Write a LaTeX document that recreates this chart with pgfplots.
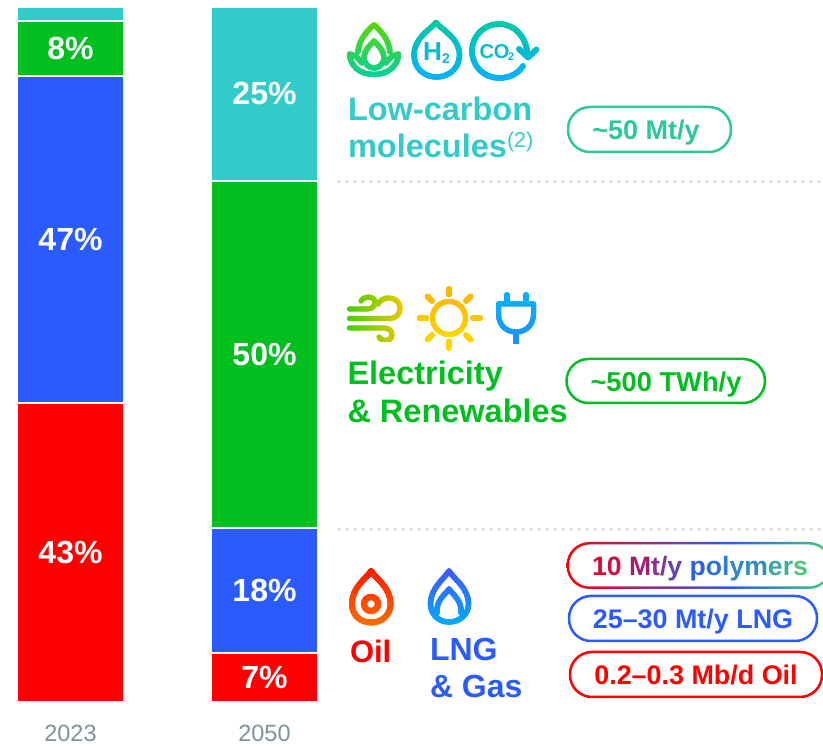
\documentclass[border=0pt]{standalone}
\usepackage{pgfplots}
\pgfplotsset{compat=1.18}
\usepackage{fontspec}
\setmainfont{Liberation Sans}
\definecolor{cteal}{HTML}{33CACA}
\definecolor{cgreen}{HTML}{00BF1E}
\definecolor{cblue}{HTML}{2B5BFF}
\definecolor{cred}{HTML}{FF0000}
\definecolor{cmint}{HTML}{2CC79B}
\definecolor{cgray}{HTML}{7F9298}
\definecolor{cdot}{HTML}{CFD8DB}
\definecolor{pend}{HTML}{3FD070}
\definecolor{g1}{HTML}{5FD800}
\definecolor{g2}{HTML}{00D0A0}
\definecolor{t1}{HTML}{00CCA0}
\definecolor{t2}{HTML}{00B0FF}
\definecolor{w1}{HTML}{40D000}
\definecolor{w2}{HTML}{F0C800}
\definecolor{s1}{HTML}{FFB000}
\definecolor{s2}{HTML}{FFDD00}
\definecolor{p1}{HTML}{00B8F8}
\definecolor{p2}{HTML}{1E90FF}
\definecolor{o1}{HTML}{FF1000}
\definecolor{o2}{HTML}{FF7000}
\definecolor{l1}{HTML}{4A4CFF}
\definecolor{l2}{HTML}{00B0FF}
\pgfdeclarehorizontalshading{polyshade}{100bp}{color(0bp)=(cred); color(25bp)=(cred); color(56bp)=(cblue); color(75bp)=(pend); color(100bp)=(pend)}
\newcommand{\fs}[1]{\fontsize{#1pt}{#1pt}\selectfont}
\tikzset{ic/.style={line width=5.3pt,line cap=round,line join=round},
  tx/.style={inner sep=0pt,outer sep=0pt,anchor=base west},
  txc/.style={inner sep=0pt,outer sep=0pt,anchor=base}}
% vertical gradient: {x0}{x1}{y0}{y1}{top}{bottom}{paths}
\newcommand{\vgrad}[7]{%
  \pgfmathsetmacro\gsteps{int(#4-#3)}%
  \foreach \k in {0,...,\gsteps}{%
    \pgfmathsetmacro\pct{100*\k/\gsteps}%
    \colorlet{gc}{#6!\pct!#5}%
    \begin{scope}
      \clip (#1,#3+\k) rectangle (#2,#3+\k+1.4);
      \begin{scope}[color=gc] #7 \end{scope}
    \end{scope}
  }}
% horizontal gradient: {x0}{x1}{y0}{y1}{left}{right}{paths}
\newcommand{\hgrad}[7]{%
  \pgfmathsetmacro\gsteps{int(#2-#1)}%
  \foreach \k in {0,...,\gsteps}{%
    \pgfmathsetmacro\pct{100*\k/\gsteps}%
    \colorlet{gc}{#6!\pct!#5}%
    \begin{scope}
      \clip (#1+\k,#3) rectangle (#1+\k+1.4,#4);
      \begin{scope}[color=gc] #7 \end{scope}
    \end{scope}
  }}
\begin{document}
\begin{tikzpicture}
\useasboundingbox (0,0) rectangle (823pt,747pt);
\clip (0,0) rectangle (823pt,747pt);
\begin{axis}[
  at={(0pt,45pt)}, anchor=south west, scale only axis,
  width=823pt, height=695pt,
  xmin=0, xmax=823, ymin=0, ymax=100,
  ybar stacked, bar width=107pt, clip=false,
  axis line style={draw=none}, major tick style={draw=none},
  ymajorticks=false,
  xtick={70.5,264.5}, xticklabels={2023,2050},
  xticklabel style={font=\fs{23.5}, text=cgray, inner sep=0pt, anchor=base, yshift=-40pt},
  every axis plot/.append style={draw=white, line width=2pt},
]
\addplot[fill=cred]   coordinates {(70.5,43) (264.5,7)};
\addplot[fill=cblue]  coordinates {(70.5,47) (264.5,18)};
\addplot[fill=cgreen] coordinates {(70.5,8)  (264.5,50)};
\addplot[fill=cteal]  coordinates {(70.5,2)  (264.5,25)};
\end{axis}
% value labels: y = middle of each segment, meta = the share
\begin{axis}[
  at={(0pt,45pt)}, anchor=south west, scale only axis,
  width=823pt, height=695pt,
  xmin=0, xmax=823, ymin=0, ymax=100,
  hide axis, clip=false,
  point meta=explicit,
  nodes near coords={\pgfmathprintnumber[assume math mode=true,precision=0]{\pgfplotspointmeta}\%},
  every node near coord/.append style={anchor=center,text=white,font=\bfseries\fs{32},inner sep=0pt},
]
\addplot[only marks, mark=none, draw=none] table[x=x,y=y,meta=v] {
x y v
70.5 21.5 43
70.5 66.5 47
70.5 94 8
264.5 3.5 7
264.5 16 18
264.5 50 50
264.5 87.5 25
};
\end{axis}
\begin{scope}[x=1pt,y=-1pt,yshift=747pt]
% separators
\draw[cdot,line width=3.5pt,line cap=round,dash pattern=on 0pt off 8pt] (339,182) -- (823,182);
\draw[cdot,line width=3.5pt,line cap=round,dash pattern=on 0pt off 8pt] (339,529.5) -- (823,529.5);
% titles
\node[tx,text=cteal,font=\bfseries\fs{32.5}] at (348,121) {Low-carbon};
\node[tx,text=cteal,font=\bfseries\fs{32.5}] at (348,158) {molecules};
\node[tx,text=cteal,font=\fs{21.5}] at (507,148) {(2)};
\node[tx,text=cgreen,font=\bfseries\fs{32.5}] at (347.5,385) {Electricity};
\node[tx,text=cgreen,font=\bfseries\fs{32.5}] at (347.5,423) {\& Renewables};
\node[tx,text=cred,font=\bfseries\fs{31}] at (350,662.5) {Oil};
\node[tx,text=cblue,font=\bfseries\fs{32}] at (430,660.5) {LNG};
\node[tx,text=cblue,font=\bfseries\fs{32}] at (430,697.5) {\& Gas};
% pills
\draw[cmint,line width=2.5pt,rounded corners=22pt] (568,107) rectangle (731,152);
\node[txc,text=cmint,font=\bfseries\fs{27}] at (646,140) {\textasciitilde 50 Mt/y};
\draw[cgreen,line width=2.5pt,rounded corners=22pt] (566.5,359) rectangle (765,403);
\node[txc,text=cgreen,font=\bfseries\fs{27.3}] at (666,392) {\textasciitilde 500 TWh/y};
\shade[shading=polyshade,even odd rule,rounded corners=23pt] (566.5,542) rectangle (832,589)
   [rounded corners=20.5pt] (569,544.5) rectangle (829.5,586.5);
\node[txc,font=\bfseries\fs{26.6}] at (700,575.5) {\textcolor[HTML]{E00030}{1}\textcolor[HTML]{D01040}{0} \textcolor[HTML]{A02070}{M}\textcolor[HTML]{8A3090}{t}\textcolor[HTML]{7A38A0}{/}\textcolor[HTML]{6A40B5}{y} \textcolor[HTML]{2B60E8}{p}\textcolor[HTML]{2B70E0}{o}\textcolor[HTML]{2A80D0}{l}\textcolor[HTML]{2A88C8}{y}\textcolor[HTML]{3090B8}{m}\textcolor[HTML]{38A8A8}{e}\textcolor[HTML]{40B090}{r}\textcolor[HTML]{48C878}{s}};
\draw[cblue,line width=2.5pt,rounded corners=22pt] (569,596) rectangle (817,641);
\node[txc,text=cblue,font=\bfseries\fs{26.9}] at (693,628.5) {25–30 Mt/y LNG};
\draw[cred,line width=2.5pt,rounded corners=22pt] (570,652) rectangle (822,697);
\node[txc,text=cred,font=\bfseries\fs{26.9}] at (696,684.5) {0.2–0.3 Mb/d Oil};
% lotus
\vgrad{344}{404}{20}{80}{g1}{g2}{
  \draw[ic] (358,52) .. controls (359,39) and (368,30) .. (374,25) .. controls (380,30) and (389,39) .. (390,52);
  \draw[ic] (374,41) .. controls (369,46) and (364,51) .. (364,58) .. controls (364,64) and (369,68) .. (374,68) .. controls (379,68) and (384,64) .. (384,58) .. controls (384,51) and (379,46) .. (374,41) -- cycle;
  \draw[ic] (362,63) .. controls (358,57) and (354,55) .. (349.5,54) .. controls (350,66) and (360,74.5) .. (374,74.5) .. controls (388,74.5) and (398,66) .. (398.5,54) .. controls (394,55) and (390,57) .. (386,63);
}
% H2 drop
\vgrad{408}{466}{17}{83}{t1}{t2}{
  \draw[ic] (436,22.5) .. controls (430,30) and (414,38) .. (414,55) .. controls (414,68) and (424,77) .. (436.5,77) .. controls (449,77) and (459.5,68) .. (459.5,55) .. controls (459.5,38) and (442,30) .. (436,22.5) -- cycle;
}
\node[tx,text=t1!50!t2,font=\bfseries\fs{26}] at (423,60.5) {H};
\node[tx,text=t1!50!t2,font=\bfseries\fs{14}] at (442,63.5) {2};
% CO2 cycle
\vgrad{466}{542}{20}{83}{t1}{t2}{
  \draw[line width=5.5pt,line cap=round] (523,66) .. controls (518,74) and (509,78) .. (499,78) .. controls (484,78) and (472,66) .. (472,51) .. controls (472,36) and (484,24) .. (499,24) .. controls (514,24) and (526,36) .. (527.5,54);
  \draw[line width=5.5pt,line cap=round,line join=round] (519,49) -- (528,57.5) -- (536.5,49.5);
}
\node[tx,text=t1!50!t2,font=\bfseries\fs{20}] at (479.5,58.5) {CO};
\node[tx,text=t1!50!t2,font=\bfseries\fs{11}] at (508,60.5) {2};
% wind
\hgrad{346}{404}{293}{342}{w1}{w2}{
  \draw[ic] (349.5,309) -- (367,309) .. controls (372,309) and (375,306) .. (375,302.5) .. controls (375,299) and (372,297) .. (369,297) .. controls (366,297) and (363,298) .. (361,301);
  \draw[ic] (349.5,318.5) -- (390,318.5) .. controls (396,318.5) and (400,314) .. (400,308.5) .. controls (400,302) and (395,298) .. (389,298) .. controls (384,298) and (380,300) .. (378,304);
  \draw[ic] (349.5,328) -- (384,328) .. controls (389,328) and (392,331) .. (392,335) .. controls (392,339) and (388,340.5) .. (385,340.5) .. controls (382.5,340.5) and (380.5,339.5) .. (379,337);
}
% sun
\vgrad{416}{484}{284}{352}{s1}{s2}{
  \draw[line width=5pt] (449,318) circle (16.5);
  \draw[line width=5.5pt,line cap=round] (449,289) -- (449,294.5);
  \draw[line width=5.5pt,line cap=round] (449,341.5) -- (449,348);
  \draw[line width=5.5pt,line cap=round] (419.5,318) -- (426,318);
  \draw[line width=5.5pt,line cap=round] (473,318) -- (480,318);
  \draw[line width=5.5pt,line cap=round] (427.5,296.5) -- (432,301);
  \draw[line width=5.5pt,line cap=round] (470.5,296.5) -- (466,301);
  \draw[line width=5.5pt,line cap=round] (427.5,339.5) -- (432,335);
  \draw[line width=5.5pt,line cap=round] (470.5,339.5) -- (466,335);
}
% plug
\vgrad{490}{542}{288}{344}{p1}{p2}{
  \draw[line width=5pt,line join=round] (498.5,304) -- (533.5,304) -- (533.5,314) .. controls (533.5,325) and (526,332) .. (516,332) .. controls (506,332) and (498.5,325) .. (498.5,314) -- cycle;
  \draw[line width=5.5pt,line cap=round] (507,295) -- (507,303);
  \draw[line width=5.5pt,line cap=round] (526,295) -- (526,303);
  \draw[line width=5.5pt] (516,332) -- (516,344);
  \fill (496.5,302) rectangle (535.5,306);
}
% oil drop
\vgrad{344}{398}{564}{628}{o1}{o2}{
  \draw[line width=5.8pt,line join=round] (371,571) .. controls (366,579) and (352,587) .. (352,604) .. controls (352,615) and (360,622.5) .. (371,622.5) .. controls (382,622.5) and (390.5,615) .. (390.5,604) .. controls (390.5,587) and (376,579) .. (371,571) -- cycle;
  \draw[line width=6pt] (371,604) circle (7);
}
% LNG drop
\vgrad{424}{474}{564}{628}{l1}{l2}{
  \draw[ic] (449,571) .. controls (444,579) and (430.5,588) .. (430.5,604) .. controls (430.5,614) and (438,622) .. (449,622) .. controls (460,622) and (468.5,614) .. (468.5,604) .. controls (468.5,588) and (454,579) .. (449,571) -- cycle;
  \draw[ic] (437,613) .. controls (436,600) and (445,595) .. (449,589) .. controls (453,595) and (462,600) .. (461,613);
}
\end{scope}
\end{tikzpicture}
\end{document}
